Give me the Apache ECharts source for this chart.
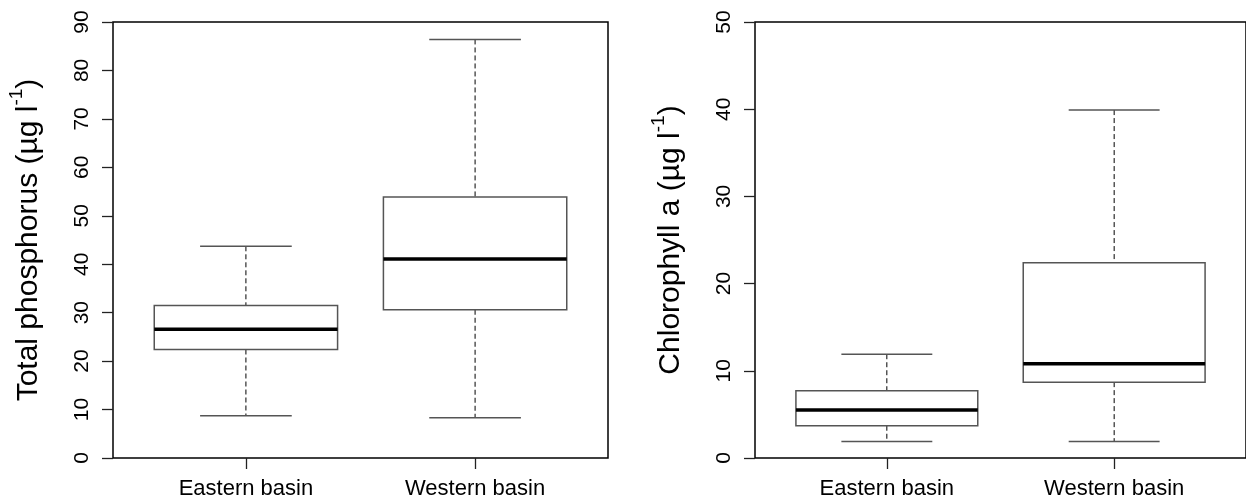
<!DOCTYPE html>
<html>
<head>
<meta charset="utf-8">
<script src="https://cdn.jsdelivr.net/npm/echarts@6/dist/echarts.min.js"></script>
<style>
  html, body { margin: 0; padding: 0; background: #fff; }
  #chart { width: 1246px; height: 504px; }
</style>
</head>
<body>
<div id="chart"></div>
<script>
// categories on the x axis
var categories = ['Eastern basin', 'Western basin']

// total phosphorus (left panel)
var tpLow = [8.7, 8.3]
var tpQ1 = [22.4, 30.6]
var tpMedian = [26.6, 41.1]
var tpQ3 = [31.5, 53.9]
var tpHigh = [43.7, 86.4]

// chlorophyll a (right panel)
var chlLow = [1.9, 1.9]
var chlQ1 = [3.7, 8.7]
var chlMedian = [5.5, 10.8]
var chlQ3 = [7.7, 22.4]
var chlHigh = [11.9, 39.9]

var tpTicks = [0, 10, 20, 30, 40, 50, 60, 70, 80, 90]
var chlTicks = [0, 10, 20, 30, 40, 50]

function boxData(lo, q1, med, q3, hi) {
  return categories.map(function (c, i) {
    return [i + 1, lo[i], q1[i], med[i], q3[i], hi[i]]
  })
}

var font = 'Liberation Sans, Arial, sans-serif'

// draws one R-style box: dashed whiskers, caps, box and thick median
function renderBox(params, api) {
  var x = api.value(0)
  var pLo = api.coord([x, api.value(1)])
  var pQ1 = api.coord([x, api.value(2)])
  var pMed = api.coord([x, api.value(3)])
  var pQ3 = api.coord([x, api.value(4)])
  var pHi = api.coord([x, api.value(5)])
  var halfBox = api.size([0.4, 0])[0]
  var halfCap = api.size([0.2, 0])[0]
  var cx = pMed[0]
  var dashed = { stroke: '#000', lineWidth: 1, lineDash: [5, 3] }
  var grey = { stroke: '#555', lineWidth: 1.5 }
  return {
    type: 'group',
    children: [
      { type: 'line', shape: { x1: cx, y1: pHi[1], x2: cx, y2: pQ3[1] }, style: dashed },
      { type: 'line', shape: { x1: cx, y1: pQ1[1], x2: cx, y2: pLo[1] }, style: dashed },
      { type: 'line', shape: { x1: cx - halfCap, y1: pHi[1], x2: cx + halfCap, y2: pHi[1] }, style: grey },
      { type: 'line', shape: { x1: cx - halfCap, y1: pLo[1], x2: cx + halfCap, y2: pLo[1] }, style: grey },
      {
        type: 'rect',
        shape: { x: cx - halfBox, y: pQ3[1], width: halfBox * 2, height: pQ1[1] - pQ3[1] },
        style: { fill: '#fff', stroke: '#555', lineWidth: 1.5 }
      },
      { type: 'line', shape: { x1: cx - halfBox, y1: pMed[1], x2: cx + halfBox, y2: pMed[1] }, style: { stroke: '#000', lineWidth: 3.5 } }
    ]
  }
}

function xAxisFor(gridIndex) {
  return {
    type: 'value',
    gridIndex: gridIndex,
    min: 0.42,
    max: 2.58,
    axisLine: { show: false },
    splitLine: { show: false },
    axisTick: { show: true, length: 11, customValues: [1, 2], lineStyle: { color: '#222', width: 1.3 } },
    axisLabel: {
      customValues: [1, 2],
      margin: 20,
      fontSize: 22,
      fontFamily: font,
      color: '#000',
      formatter: function (v) { return categories[Math.round(v) - 1] }
    }
  }
}

function yAxisFor(gridIndex, ticks, title) {
  return {
    type: 'value',
    gridIndex: gridIndex,
    min: ticks[0],
    max: ticks[ticks.length - 1],
    interval: ticks[1] - ticks[0],
    axisLine: { show: false },
    splitLine: { show: false },
    axisTick: { show: true, length: 11, lineStyle: { color: '#222', width: 1.3 } },
    axisLabel: { rotate: 90, margin: 20, fontSize: 21, fontFamily: font, color: '#000' },
    name: '{a|' + title + ' (µg l}{s|-1}{a|)}',
    nameLocation: 'middle',
    nameRotate: 90,
    nameGap: 62,
    nameTextStyle: {
      rich: {
        a: { fontSize: 30, fontFamily: font, color: '#000', lineHeight: 44 },
        s: { fontSize: 19, fontFamily: font, color: '#000', verticalAlign: 'top', lineHeight: 19 }
      }
    }
  }
}

var chart = echarts.init(document.getElementById('chart'))
chart.setOption({
  backgroundColor: '#fff',
  animation: false,
  grid: [
    { left: 113, top: 22, width: 495, height: 436, show: true, borderColor: '#000', borderWidth: 1.5, backgroundColor: 'transparent' },
    { left: 755, top: 22, width: 495, height: 436, show: true, borderColor: '#000', borderWidth: 1.5, backgroundColor: 'transparent' }
  ],
  xAxis: [xAxisFor(0), xAxisFor(1)],
  yAxis: [
    yAxisFor(0, tpTicks, 'Total phosphorus'),
    yAxisFor(1, chlTicks, 'Chlorophyll a')
  ],
  series: [
    {
      type: 'custom',
      xAxisIndex: 0,
      yAxisIndex: 0,
      renderItem: renderBox,
      encode: { x: 0, y: [1, 2, 3, 4, 5] },
      data: boxData(tpLow, tpQ1, tpMedian, tpQ3, tpHigh)
    },
    {
      type: 'custom',
      xAxisIndex: 1,
      yAxisIndex: 1,
      renderItem: renderBox,
      encode: { x: 0, y: [1, 2, 3, 4, 5] },
      data: boxData(chlLow, chlQ1, chlMedian, chlQ3, chlHigh)
    }
  ]
})
</script>
</body>
</html>
